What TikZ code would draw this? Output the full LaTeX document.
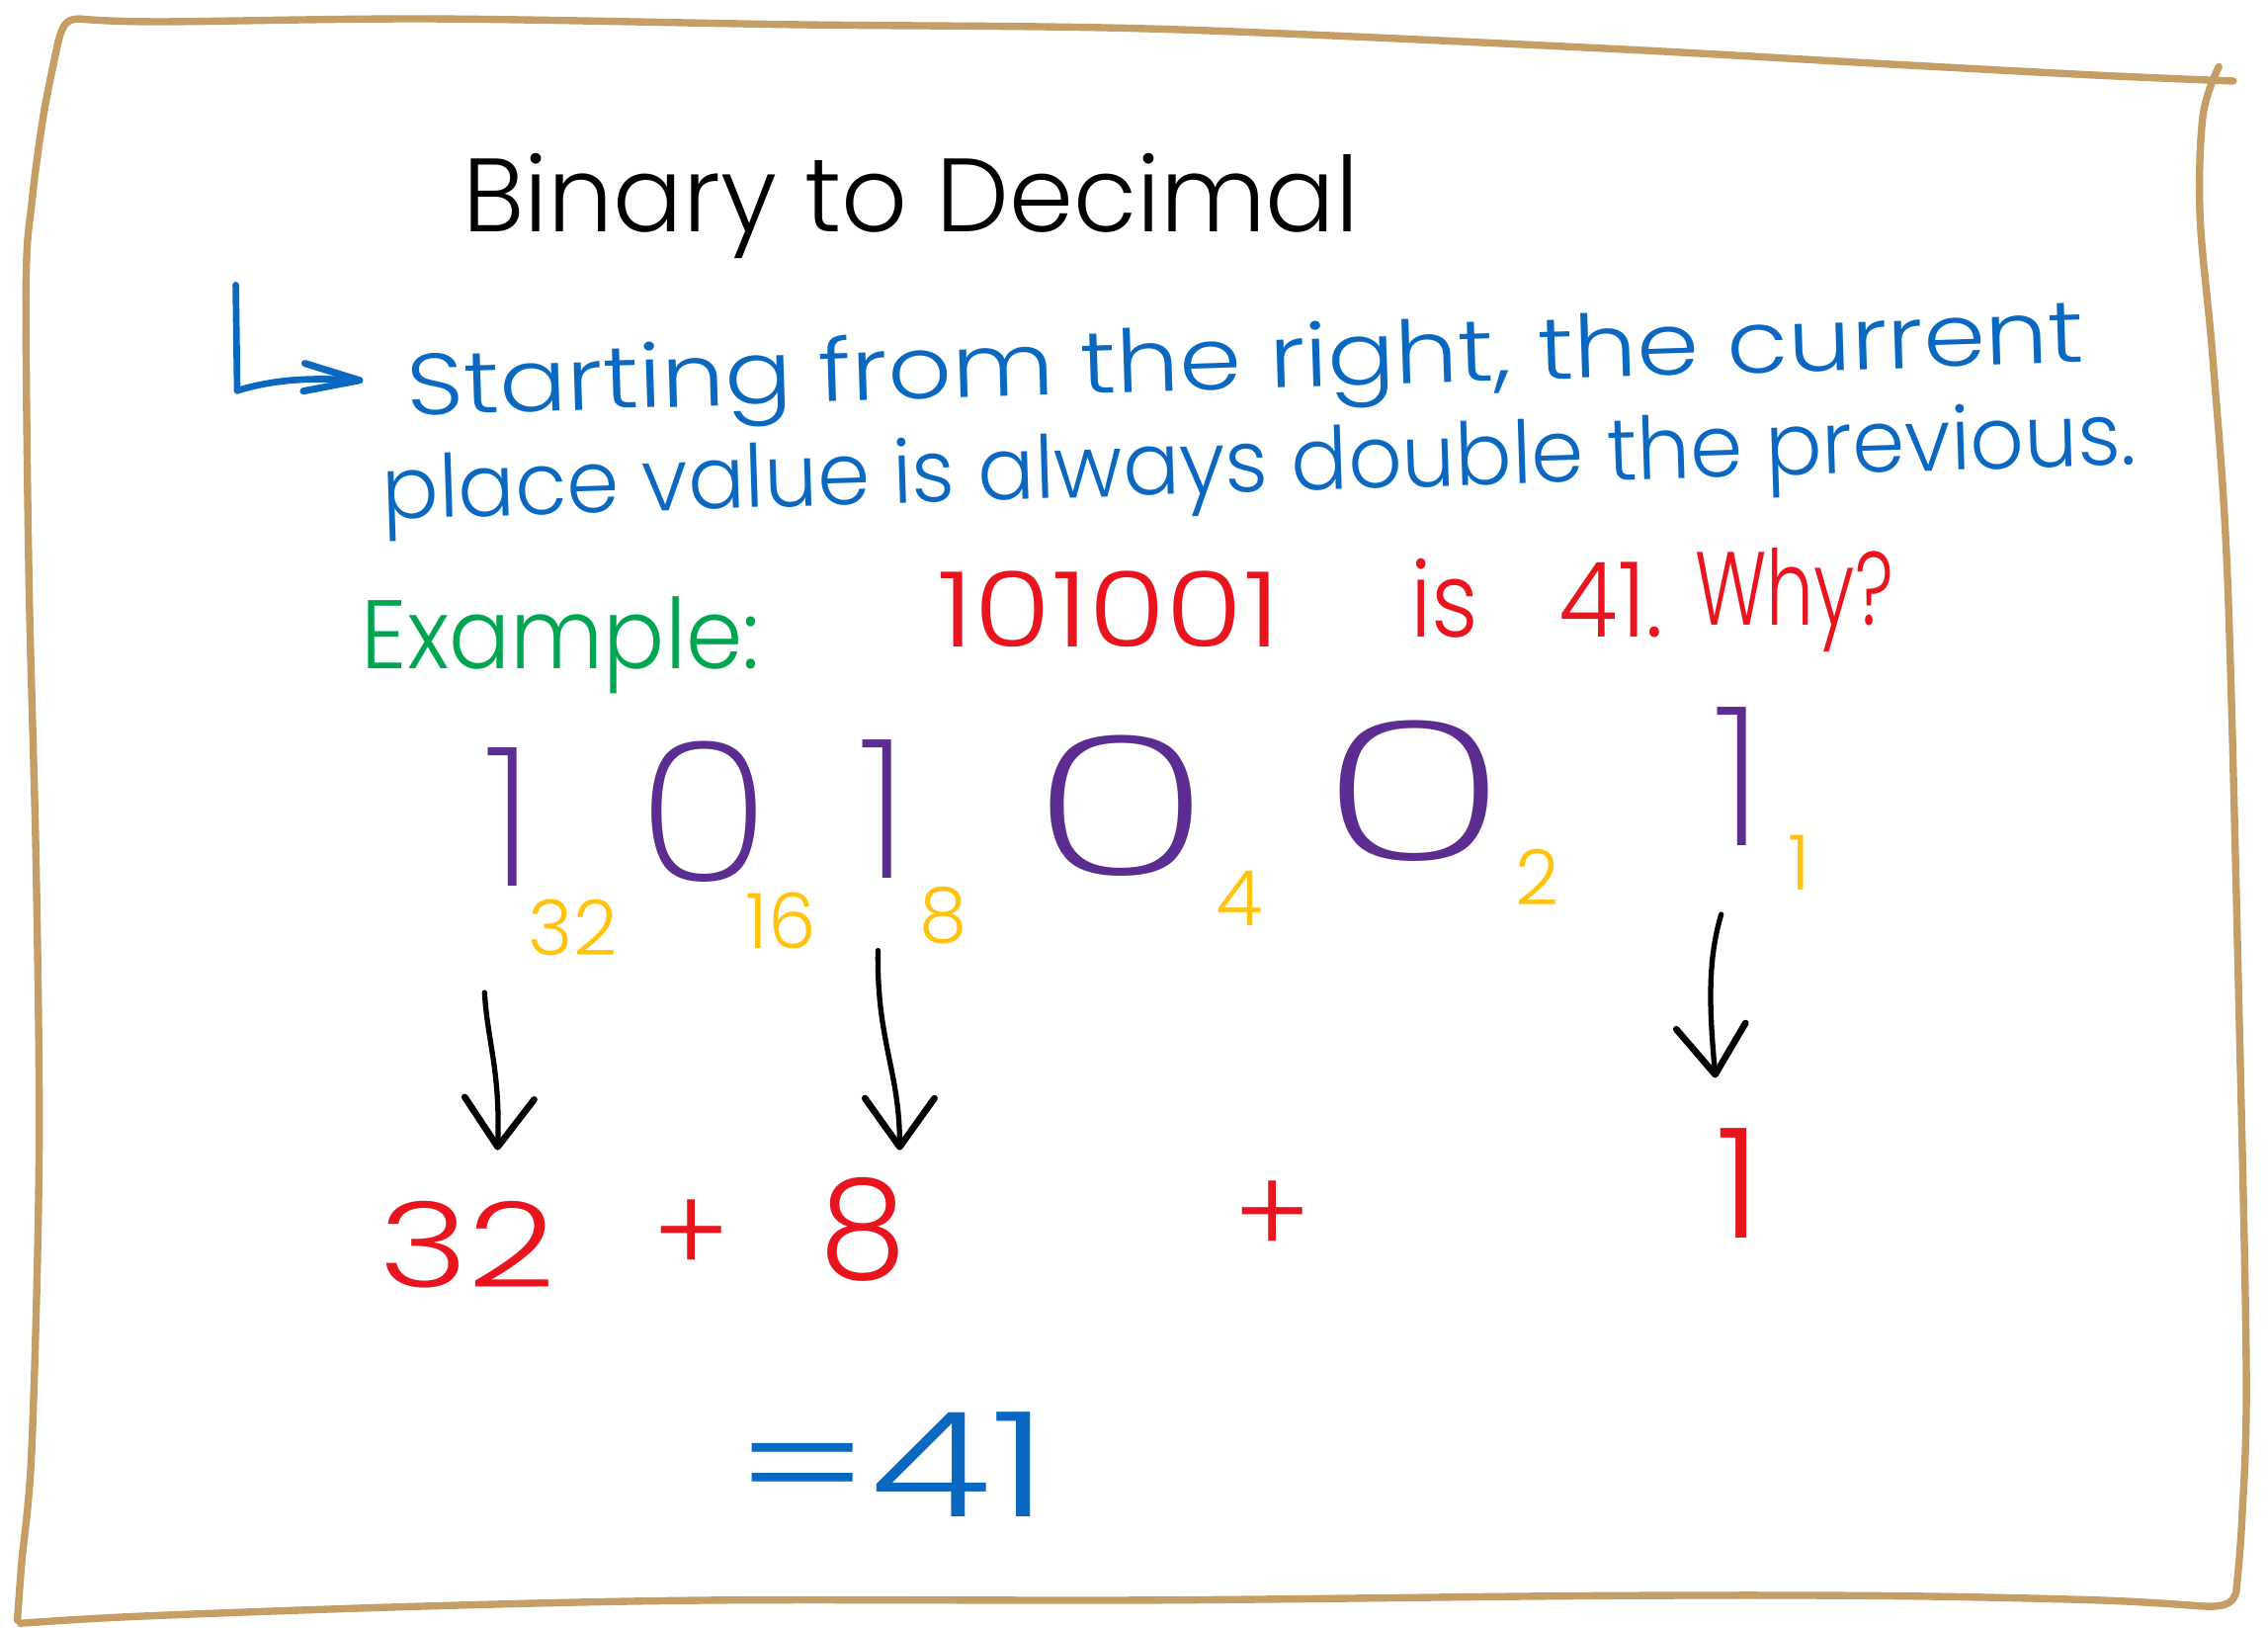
\documentclass[tikz,border=0pt]{standalone}
\usepackage{fontspec}
\usepackage{graphicx}
\usetikzlibrary{arrows.meta}
\IfFontExistsTF{Poppins Light}{\newfontfamily\handfont{Poppins Light}}{\newfontfamily\handfont{Poppins}}
\IfFontExistsTF{Poppins ExtraLight}{\newfontfamily\thinfont{Poppins ExtraLight}}{\let\thinfont\handfont}
\definecolor{frametan}{HTML}{C49E64}
\definecolor{myblue}{HTML}{0A68C0}
\definecolor{mygreen}{HTML}{00A551}
\definecolor{myred}{HTML}{E8141E}
\definecolor{mypurple}{HTML}{5C2D91}
\definecolor{myyellow}{HTML}{FFC20E}
\newcommand\fs[1]{\fontsize{#1}{#1}\selectfont}
\newcommand\fitw[2]{\resizebox{#1}{\height}{#2}}
\tikzset{
  lbl/.style={inner sep=0pt, outer sep=0pt},
  bigdigit/.style={lbl, text=mypurple, font=\thinfont\fs{56}},
  place/.style={lbl, text=myyellow, font=\handfont\fs{22}},
  redtxt/.style={lbl, text=myred, font=\handfont},
  blk/.style={draw=black, line width=1.5pt, line cap=round, line join=round,
    -{Straight Barb[round, length=14pt, width=20pt, line width=1.9pt]}},
  blueline/.style={draw=myblue, line width=1.9pt, line cap=round, line join=round},
  border/.style={draw=frametan, line width=2.1pt, line cap=round, line join=round}
}
\begin{document}
\begin{tikzpicture}[x=0.014636cm, y=-0.014636cm, font=\handfont]
\useasboundingbox (0,0) rectangle (1568,1125);
% frame
\draw[border] plot[smooth, tension=0.55] coordinates {
  (1534,46) (1523,80) (1521,150) (1530,250) (1540,400) (1548,700) (1553,950) (1550,1050) (1546,1100)}
  .. controls (1544,1110) and (1535,1111) .. (1520,1110)
  plot[smooth, tension=0.55] coordinates {
  (1520,1110) (1450,1106) (1300,1103) (1100,1103) (800,1106) (500,1106) (300,1110) (100,1117) (14,1122)}
  plot[smooth, tension=0.55] coordinates {
  (12,1120) (15,1080) (22,1000) (27,800) (25,600) (20,400) (18,200) (22,140) (30,80) (40,30)}
  .. controls (43,18) and (45,13) .. (55,13)
  plot[smooth, tension=0.55] coordinates {
  (55,13) (110,15) (300,13) (550,17) (800,20) (1100,33) (1300,44) (1450,52) (1544,56)};
% title and text
\node[lbl, anchor=base west, text=black] (title) at (320,160) {\fs{30}\fitw{258pt}{Binary to Decimal}};
\node[lbl, anchor=base west, text=myblue, rotate=1.8] (line1) at (282,287) {\fs{25}\fitw{483pt}{Starting from the right, the current}};
\node[lbl, anchor=base west, text=myblue, rotate=1.8] (line2) at (265,359) {\fs{25}\fitw{505pt}{place value is always double the previous.}};
\coordinate (Ltop) at (163,197);
\coordinate (Lcorner) at (164,270);
\coordinate (Ltip) at (251,263);
\draw[blueline] (Ltop) -- (Lcorner);
\draw[blueline, -{Straight Barb[round, length=16pt, width=8pt, line width=2pt]}] (Lcorner) .. controls (190,262) and (215,261) .. (Ltip);
\node[lbl, anchor=base west, text=mygreen] (example) at (250,462) {\fs{28}\fitw{114.5pt}{Example:}};
\node[redtxt, anchor=base west] (num) at (648,447) {\fs{30}\fitw{98.7pt}{101001}};
\node[redtxt, anchor=base west] (is) at (975,440) {\fs{30}\fitw{19.6pt}{is}};
\node[redtxt, anchor=base west] (ft) at (1078,440) {\fs{30}\fitw{30pt}{41.}};
\node[redtxt, anchor=base west] (why) at (1172,432) {\fs{30}\fitw{57pt}{Why?}};
% big binary digits
\node[bigdigit] (d1) at (352,565) {1};
\node[bigdigit] (d2) at (487,561) {\fitw{38.7pt}{0}};
\node[bigdigit] (d3) at (611,559) {1};
\node[bigdigit] (d4) at (775,557) {\fitw{52.5pt}{0}};
\node[bigdigit] (d5) at (978,547) {\fitw{55pt}{0}};
\node[bigdigit] (d6) at (1202,537) {1};
% place values
\node[place] (p32) at (396,641) {32};
\node[place] (p16) at (540,636) {16};
\node[place] (p8) at (652,633) {8};
\node[place] (p4) at (857,621) {4};
\node[place] (p2) at (1063,606) {2};
\node[place] (p1) at (1244,596) {1};
% sum
\node[redtxt] (r32) at (323,860) {\fs{34}\fitw{51pt}{32}};
\node[redtxt] (plus1) at (478,855) {\fs{34}+};
\node[redtxt] (r8) at (597,850) {\fs{40}8};
\node[redtxt] (plus2) at (880,842) {\fs{34}+};
\node[redtxt] (r1) at (1202,818) {\fs{44}1};
\node[lbl, text=myblue] (result) at (617,1012) {\fs{42}\fitw{90pt}{=41}};
% arrows
\coordinate (a1s) at (335,686);
\coordinate (a1e) at (344,795);
\coordinate (a2s) at (607,657);
\coordinate (a2e) at (622,795);
\coordinate (a3s) at (1190,632);
\coordinate (a3e) at (1186,745);
\draw[blk] (a1s) .. controls (337,720) and (346,740) .. (a1e);
\draw[blk] (a2s) .. controls (606,720) and (622,740) .. (a2e);
\draw[blk] (a3s) .. controls (1180,665) and (1182,700) .. (a3e);
\end{tikzpicture}
\end{document}
